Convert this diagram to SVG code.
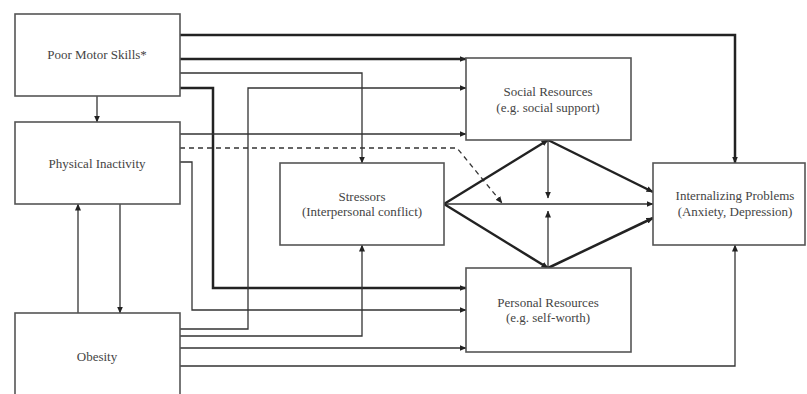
<svg xmlns="http://www.w3.org/2000/svg" width="807" height="394" viewBox="0 0 807 394">
<defs>
<marker id="ah" markerWidth="7" markerHeight="6" refX="6.5" refY="3" orient="auto" markerUnits="userSpaceOnUse">
<path d="M0,0 L7,3 L0,6 Z" fill="#222"/>
</marker>
<style>
.box{fill:#fff;stroke:#555;stroke-width:1.6}
.lbl{font-family:"Liberation Serif","Times New Roman",serif;font-size:13px;fill:#444;text-anchor:middle}
.thin{fill:none;stroke:#333;stroke-width:1.3}
.thick{fill:none;stroke:#222;stroke-width:2.5}
.dash{fill:none;stroke:#333;stroke-width:1.3;stroke-dasharray:5,4}
.arr{marker-end:url(#ah)}
</style>
</defs>
<rect width="807" height="394" fill="#fff"/>
<g id="connectors">
<path class="thick arr" d="M180,35 H735 V163"/>
<path class="thick arr" d="M180,59 H466"/>
<path class="thin arr" d="M180,73 H362 V163"/>
<path class="thick arr" d="M180,88 H213 V288 H466"/>
<path class="thin arr" d="M97,96 V122"/>
<path class="thin arr" d="M180,134 H466"/>
<path class="dash arr" d="M180,148 H457 L502,203"/>
<path class="thin arr" d="M180,162 H192 V310 H466"/>
<path class="thin arr" d="M120,204 V313"/>
<path class="thin arr" d="M78,313 V204"/>
<path class="thin arr" d="M180,329 H248 V88 H466"/>
<path class="thin arr" d="M180,336 H362 V245"/>
<path class="thin arr" d="M180,348 H466"/>
<path class="thin arr" d="M180,366 H735 V245"/>
<path class="thick arr" d="M444,204 L548,140"/>
<path class="thin arr" d="M444,204 H653"/>
<path class="thick arr" d="M444,204 L548,268"/>
<path class="thick arr" d="M548,140 L653,192"/>
<path class="thin arr" d="M548,140 V198"/>
<path class="thick arr" d="M548,268 L653,218"/>
<path class="thin arr" d="M548,268 V211"/>
</g>
<g id="poor-motor-skills">
<rect class="box" x="15" y="14" width="165" height="82"/>
<text class="lbl" x="97" y="59">Poor Motor Skills*</text>
</g>
<g id="physical-inactivity">
<rect class="box" x="15" y="122" width="165" height="82"/>
<text class="lbl" x="97" y="168">Physical Inactivity</text>
</g>
<g id="obesity">
<rect class="box" x="15" y="313" width="165" height="90"/>
<text class="lbl" x="97" y="361">Obesity</text>
</g>
<g id="stressors">
<rect class="box" x="280" y="163" width="164" height="82"/>
<text class="lbl" x="362" y="201">Stressors</text>
<text class="lbl" x="362" y="216">(Interpersonal conflict)</text>
</g>
<g id="social-resources">
<rect class="box" x="466" y="58" width="165" height="82"/>
<text class="lbl" x="548" y="96">Social Resources</text>
<text class="lbl" x="548" y="112">(e.g. social support)</text>
</g>
<g id="personal-resources">
<rect class="box" x="466" y="268" width="165" height="84"/>
<text class="lbl" x="548" y="307">Personal Resources</text>
<text class="lbl" x="548" y="322">(e.g. self-worth)</text>
</g>
<g id="internalizing-problems">
<rect class="box" x="653" y="163" width="152" height="82"/>
<text class="lbl" x="735" y="200">Internalizing Problems</text>
<text class="lbl" x="735" y="216">(Anxiety, Depression)</text>
</g>
</svg>
